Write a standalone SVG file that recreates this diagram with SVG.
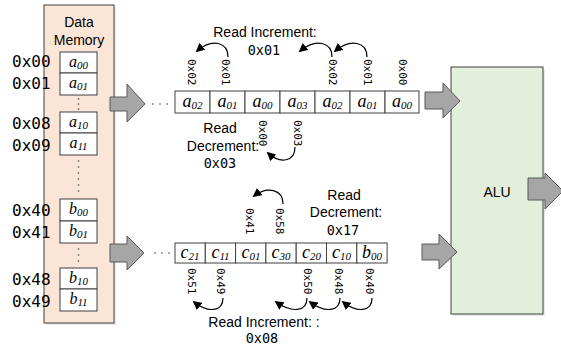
<svg xmlns="http://www.w3.org/2000/svg" width="561" height="354" viewBox="0 0 561 354">
<style>
.lbl{font-family:"Liberation Sans",Arial,sans-serif;font-size:14px;fill:#000}
.mid{text-anchor:middle}
.addr{font-family:"DejaVu Sans Mono",monospace;font-size:16px;fill:#000}
.hex{font-family:"DejaVu Sans Mono",monospace;font-size:13.5px;fill:#000}
.rot{font-family:"DejaVu Sans Mono",monospace;font-size:11px;fill:#000}
.cell{fill:#fff;stroke:#404040;stroke-width:1}
.var{font-family:"Liberation Serif","Times New Roman",serif;font-style:italic;font-size:18px;fill:#000;text-anchor:middle}
.vm{font-size:16px}
.sub{font-size:11px}
.big{fill:#a6a6a6;stroke:#595959;stroke-width:1}
.curve{fill:none;stroke:#000;stroke-width:1.2;marker-end:url(#ah)}
.dot{fill:#444}
</style>
<defs>
<marker id="ah" viewBox="0 0 10 10" refX="8" refY="5" markerWidth="9" markerHeight="9" markerUnits="userSpaceOnUse" orient="auto">
<path d="M0,0 L10,5 L0,10 z" fill="#000"/>
</marker>
</defs>

<g id="memory">
<rect x="46" y="7" width="70" height="318" fill="#d9d9d9" opacity="0.6"/>
<rect x="44" y="5" width="70" height="318" fill="#fbe5d6" stroke="#404040" stroke-width="1"/>
<text class="lbl mid" x="79" y="27">Data</text>
<text class="lbl mid" x="79" y="45">Memory</text>
<rect class="cell" x="60" y="52" width="37" height="21"/>
<rect class="cell" x="60" y="73" width="37" height="22"/>
<rect class="cell" x="60" y="112" width="37" height="21"/>
<rect class="cell" x="60" y="133" width="37" height="22"/>
<rect class="cell" x="60" y="199" width="37" height="22"/>
<rect class="cell" x="60" y="221" width="37" height="22"/>
<rect class="cell" x="60" y="268" width="37" height="21"/>
<rect class="cell" x="60" y="289" width="37" height="22"/>
<text class="var vm" x="78.5" y="67">a<tspan class="sub" dy="2">00</tspan></text>
<text class="var vm" x="78.5" y="88">a<tspan class="sub" dy="2">01</tspan></text>
<text class="var vm" x="78.5" y="127">a<tspan class="sub" dy="2">10</tspan></text>
<text class="var vm" x="78.5" y="148">a<tspan class="sub" dy="2">11</tspan></text>
<text class="var vm" x="78.5" y="214">b<tspan class="sub" dy="2">00</tspan></text>
<text class="var vm" x="78.5" y="236">b<tspan class="sub" dy="2">01</tspan></text>
<text class="var vm" x="78.5" y="283">b<tspan class="sub" dy="2">10</tspan></text>
<text class="var vm" x="78.5" y="304">b<tspan class="sub" dy="2">11</tspan></text>
<g class="dot">
<circle cx="78.5" cy="99" r="0.8"/><circle cx="78.5" cy="104" r="0.8"/><circle cx="78.5" cy="109" r="0.8"/>
<circle cx="78.5" cy="161" r="0.8"/><circle cx="78.5" cy="167" r="0.8"/><circle cx="78.5" cy="173" r="0.8"/>
<circle cx="78.5" cy="179" r="0.8"/><circle cx="78.5" cy="185" r="0.8"/><circle cx="78.5" cy="191" r="0.8"/>
<circle cx="78.5" cy="249" r="0.8"/><circle cx="78.5" cy="255" r="0.8"/><circle cx="78.5" cy="261" r="0.8"/>
</g>
<text class="addr" x="12" y="67">0x00</text>
<text class="addr" x="12" y="89">0x01</text>
<text class="addr" x="12" y="129">0x08</text>
<text class="addr" x="12" y="151">0x09</text>
<text class="addr" x="12" y="216">0x40</text>
<text class="addr" x="12" y="238">0x41</text>
<text class="addr" x="12" y="285">0x48</text>
<text class="addr" x="12" y="307">0x49</text>
</g>

<g id="alu">
<rect x="453" y="69" width="92" height="247" fill="#d9d9d9" opacity="0.6"/>
<rect x="451" y="67" width="92" height="247" fill="#e2efda" stroke="#404040" stroke-width="1"/>
<text class="lbl mid" x="497" y="197">ALU</text>
</g>

<g id="regA">
<rect class="cell" x="175" y="91" width="35" height="22"/>
<rect class="cell" x="210" y="91" width="35" height="22"/>
<rect class="cell" x="245" y="91" width="35" height="22"/>
<rect class="cell" x="280" y="91" width="35" height="22"/>
<rect class="cell" x="315" y="91" width="35" height="22"/>
<rect class="cell" x="350" y="91" width="35" height="22"/>
<rect class="cell" x="385" y="91" width="34" height="22"/>
<text class="var" x="192.5" y="107">a<tspan class="sub" dy="2">02</tspan></text>
<text class="var" x="227.5" y="107">a<tspan class="sub" dy="2">01</tspan></text>
<text class="var" x="262.5" y="107">a<tspan class="sub" dy="2">00</tspan></text>
<text class="var" x="297.5" y="107">a<tspan class="sub" dy="2">03</tspan></text>
<text class="var" x="332.5" y="107">a<tspan class="sub" dy="2">02</tspan></text>
<text class="var" x="367.5" y="107">a<tspan class="sub" dy="2">01</tspan></text>
<text class="var" x="402" y="107">a<tspan class="sub" dy="2">00</tspan></text>
<g class="dot"><circle cx="153" cy="104" r="0.8"/><circle cx="160" cy="104" r="0.8"/><circle cx="167" cy="104" r="0.8"/></g>
<text class="rot" transform="translate(188,59) rotate(90)">0x02</text>
<text class="rot" transform="translate(222,59) rotate(90)">0x01</text>
<text class="rot" transform="translate(329,59) rotate(90)">0x02</text>
<text class="rot" transform="translate(364,59) rotate(90)">0x01</text>
<text class="rot" transform="translate(399,59) rotate(90)">0x00</text>
<text class="rot" transform="translate(259,120) rotate(90)">0x00</text>
<text class="rot" transform="translate(294,120) rotate(90)">0x03</text>
<text class="lbl mid" x="265" y="37">Read Increment:</text>
<text class="hex mid" x="264" y="55">0x01</text>
<text class="lbl mid" x="220" y="133">Read</text>
<text class="lbl mid" x="223" y="151">Decrement:</text>
<text class="hex mid" x="220" y="168">0x03</text>
</g>

<g id="regB">
<rect class="cell" x="175" y="243" width="30.3" height="20"/>
<rect class="cell" x="205.3" y="243" width="30.3" height="20"/>
<rect class="cell" x="235.6" y="243" width="30.3" height="20"/>
<rect class="cell" x="265.9" y="243" width="30.3" height="20"/>
<rect class="cell" x="296.2" y="243" width="30.3" height="20"/>
<rect class="cell" x="326.5" y="243" width="30.3" height="20"/>
<rect class="cell" x="356.8" y="243" width="30.3" height="20"/>
<text class="var" x="190" y="258">c<tspan class="sub" dy="2">21</tspan></text>
<text class="var" x="220.5" y="258">c<tspan class="sub" dy="2">11</tspan></text>
<text class="var" x="251" y="258">c<tspan class="sub" dy="2">01</tspan></text>
<text class="var" x="281" y="258">c<tspan class="sub" dy="2">30</tspan></text>
<text class="var" x="311.5" y="258">c<tspan class="sub" dy="2">20</tspan></text>
<text class="var" x="341.5" y="258">c<tspan class="sub" dy="2">10</tspan></text>
<text class="var" x="372" y="258">b<tspan class="sub" dy="2">00</tspan></text>
<g class="dot"><circle cx="155" cy="253" r="0.8"/><circle cx="162" cy="253" r="0.8"/><circle cx="169" cy="253" r="0.8"/></g>
<text class="rot" transform="translate(246,208) rotate(90)">0x41</text>
<text class="rot" transform="translate(276,208) rotate(90)">0x58</text>
<text class="rot" transform="translate(188,268) rotate(90)">0x51</text>
<text class="rot" transform="translate(217,268) rotate(90)">0x49</text>
<text class="rot" transform="translate(304,268) rotate(90)">0x50</text>
<text class="rot" transform="translate(335,268) rotate(90)">0x48</text>
<text class="rot" transform="translate(366,268) rotate(90)">0x40</text>
<text class="lbl mid" x="344" y="200">Read</text>
<text class="lbl mid" x="346" y="217">Decrement:</text>
<text class="hex mid" x="343" y="235">0x17</text>
<text class="lbl mid" x="264" y="327">Read Increment: :</text>
<text class="hex mid" x="262" y="343">0x08</text>
</g>

<g id="connectors">
<path class="big" d="M110,97 H127 V84 L145,104 L127,122 V111 H110 Z"/>
<path class="big" d="M110,244 H127 V236 L144,253 L127,270 V262 H110 Z"/>
<path class="big" d="M425,92 H443 V83 L460,101 L443,118 V109 H425 Z"/>
<path class="big" d="M422,244 H439 V234 L457,252 L439,269 V260 H422 Z"/>
<path class="big" d="M528,178 H545 V173 L563,191 L545,209 V200 H528 Z"/>
<path class="curve" d="M228,57 C228,42 212,38 197,51"/>
<path class="curve" d="M332,57 C332,42 316,38 300,51"/>
<path class="curve" d="M367,57 C367,42 351,38 335,51"/>
<path class="curve" d="M295,147 C295,162 280,164 268,153"/>
<path class="curve" d="M283,204 C283,189 267,186 254,196"/>
<path class="curve" d="M223,298 C223,312 208,313 194,302"/>
<path class="curve" d="M307,298 C307,312 292,313 276,302"/>
<path class="curve" d="M340,298 C340,312 325,313 310,302"/>
<path class="curve" d="M372,298 C372,312 357,313 343,302"/>
</g>
</svg>
